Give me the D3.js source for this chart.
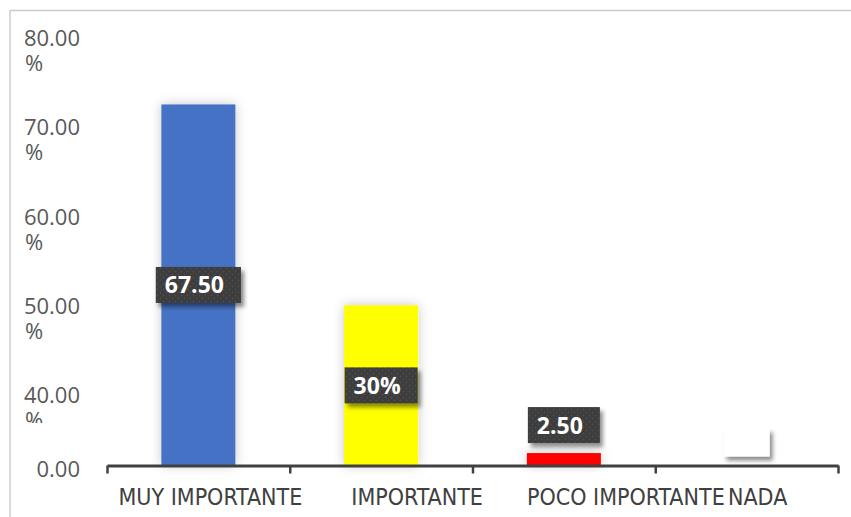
<!DOCTYPE html>
<html>
<head>
<meta charset="utf-8">
<script src="https://cdn.jsdelivr.net/npm/d3@7"></script>
<style>
  html, body { margin: 0; padding: 0; background: #ffffff; }
  svg { display: block; }
</style>
</head>
<body>
<svg id="chart" width="851" height="517"></svg>
<script>
// ---- data ----
const categories = ["MUY IMPORTANTE", "IMPORTANTE", "POCO IMPORTANTE", "NADA"];
const barValues = [73.9, 51.4, 8.5, 0];          // heights as drawn against the axis
const labelTexts = ["67.50", "30%", "2.50", ""]; // data label texts as printed
const barColors = ["#4472C4", "#FFFF00", "#FF0000", "#FFFFFF"];
const yTickValues = [0, 40, 50, 60, 70, 80];
const yTickNumbers = ["0.00", "40.00", "50.00", "60.00", "70.00", "80.00"];
const yTickSuffix = ["", "%", "%", "%", "%", "%"];

// ---- layout ----
const W = 851, H = 517;
const axisLeft = 107, axisRight = 838;
const baseY = 465.5;
const svg = d3.select("#chart");
const defs = svg.append("defs");

const barShadow = defs.append("filter").attr("id", "barShadow")
  .attr("x", "-50%").attr("y", "-50%").attr("width", "200%").attr("height", "200%");
barShadow.append("feDropShadow").attr("dx", 0).attr("dy", 0)
  .attr("stdDeviation", 6).attr("flood-color", "#000").attr("flood-opacity", 0.22);

const boxShadow = defs.append("filter").attr("id", "boxShadow")
  .attr("x", "-30%").attr("y", "-30%").attr("width", "170%").attr("height", "180%");
boxShadow.append("feDropShadow").attr("dx", 3).attr("dy", 4)
  .attr("stdDeviation", 2.2).attr("flood-color", "#000").attr("flood-opacity", 0.45);

const pat = defs.append("pattern").attr("id", "dots").attr("patternUnits", "userSpaceOnUse")
  .attr("width", 6).attr("height", 6);
pat.append("rect").attr("width", 6).attr("height", 6).attr("fill", "#3d3d3d");
pat.append("circle").attr("cx", 1.5).attr("cy", 1.5).attr("r", 0.9).attr("fill", "#4d4d4d");
pat.append("circle").attr("cx", 4.5).attr("cy", 4.5).attr("r", 0.9).attr("fill", "#4d4d4d");

// clip for y labels (the 40 % label is cut in the reference)
const clip = defs.append("clipPath").attr("id", "yclip");
clip.append("rect").attr("x", 0).attr("y", 0).attr("width", 100).attr("height", 423);
clip.append("rect").attr("x", 0).attr("y", 455).attr("width", 100).attr("height", 62);

// frame (top and left only visible)
svg.append("line").attr("x1", 10).attr("x2", W).attr("y1", 10.5).attr("y2", 10.5)
  .attr("stroke", "#cccccc").attr("stroke-width", 1.5);
svg.append("line").attr("x1", 10).attr("x2", 10).attr("y1", 10).attr("y2", H)
  .attr("stroke", "#cccccc").attr("stroke-width", 1.5);

// scales
const x = d3.scaleBand().domain(categories).range([axisLeft, axisRight]).padding(0);
const y = d3.scaleLinear().domain([0, 40, 80]).range([baseY, 407, 50]);
const barW = x.bandwidth() * 0.405;

// y labels
const yLab = svg.append("g").attr("clip-path", "url(#yclip)")
  .attr("font-family", "'Open Sans', sans-serif").attr("font-size", 22).attr("fill", "#595959");
yTickValues.forEach((v, i) => {
  const yy = y(v);
  if (yTickSuffix[i]) {
    yLab.append("text").attr("x", 80).attr("y", yy).attr("dy", -4)
      .attr("text-anchor", "end").text(yTickNumbers[i]);
    yLab.append("text").attr("x", 25).attr("y", yy).attr("dy", 21)
      .attr("text-anchor", "start").text(yTickSuffix[i]);
  } else {
    yLab.append("text").attr("x", 80).attr("y", yy).attr("dy", 11.5)
      .attr("text-anchor", "end").text(yTickNumbers[i]);
  }
});

// bars
svg.append("g").selectAll("rect").data(categories).join("rect")
  .attr("x", d => x(d) + x.bandwidth() / 2 - barW / 2)
  .attr("width", barW)
  .attr("y", (d, i) => y(barValues[i]))
  .attr("height", (d, i) => baseY - y(barValues[i]))
  .attr("fill", (d, i) => barColors[i])
  .attr("filter", (d, i) => barValues[i] > 0 ? "url(#barShadow)" : null);

// x axis
const xb = d3.scaleLinear().domain([0, categories.length]).range([axisLeft, axisRight]);
const xAxis = svg.append("g").attr("transform", `translate(0,${baseY})`)
  .call(d3.axisBottom(xb).tickValues(d3.range(categories.length + 1))
    .tickFormat("").tickSize(8).tickSizeOuter(0));
xAxis.select(".domain").attr("stroke", "#404040").attr("stroke-width", 3);
xAxis.selectAll(".tick line").attr("stroke", "#404040").attr("stroke-width", 2.5);

// x labels
const labelNudge = [12, 36, 62, 11];
svg.append("g").selectAll("text").data(categories).join("text")
  .attr("x", (d, i) => x(d) + x.bandwidth() / 2 + labelNudge[i])
  .attr("y", 505)
  .attr("text-anchor", "middle")
  .attr("font-family", "'Liberation Sans Narrow', 'DejaVu Sans Condensed', sans-serif")
  .attr("font-size", 23)
  .attr("fill", "#404040")
  .text(d => d);

// data labels
const lg = svg.append("g");
categories.forEach((c, i) => {
  const cx = x(c) + x.bandwidth() / 2;
  const top = y(barValues[i]);
  const txt = labelTexts[i];
  const g = lg.append("g");
  if (txt) {
    const t = g.append("text").attr("font-family", "'Open Sans', sans-serif")
      .attr("font-weight", 700).attr("font-size", 23).attr("fill", "#ffffff").text(txt);
    const tw = t.node().getComputedTextLength();
    const bw = tw + 26, bh = 36;
    const barH = baseY - top;
    const cy = barH > bh + 20 ? top + barH / 2 : top - 10 - bh / 2;
    g.insert("rect", "text").attr("x", cx - bw / 2).attr("y", cy - bh / 2)
      .attr("width", bw).attr("height", bh).attr("fill", "url(#dots)")
      .attr("filter", "url(#boxShadow)");
    t.attr("x", cx - bw / 2 + 9).attr("y", cy + 8.5);
  } else {
    const bw = 46, bh = 28;
    const cy = top - 9 - bh / 2;
    g.append("rect").attr("x", cx - bw / 2).attr("y", cy - bh / 2)
      .attr("width", bw).attr("height", bh).attr("fill", "#ffffff")
      .attr("filter", "url(#boxShadow)");
  }
});
</script>
</body>
</html>
